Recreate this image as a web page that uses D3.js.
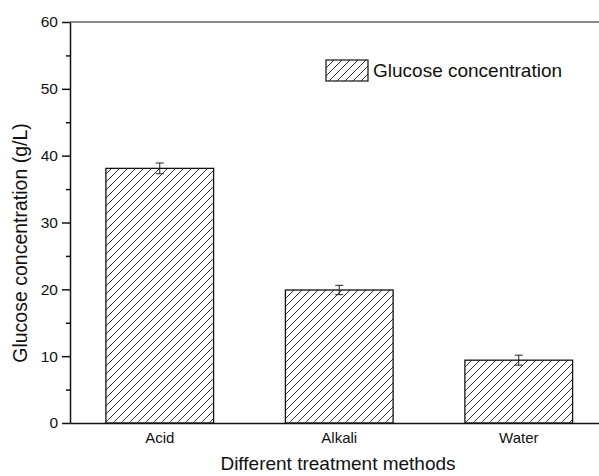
<!DOCTYPE html>
<html>
<head>
<meta charset="utf-8">
<script src="https://cdn.jsdelivr.net/npm/d3@7"></script>
<style>
  body { margin: 0; background: #fff; }
  text { font-family: "Liberation Sans", Arial, sans-serif; fill: #111; }
</style>
</head>
<body>
<script>
// data
const methods = ["Acid", "Alkali", "Water"];
const glucose = [38.1, 19.9, 9.4];
const glucoseErr = [0.8, 0.7, 0.75];
const yTicks = [0, 10, 20, 30, 40, 50, 60];
const yMinorTicks = [5, 15, 25, 35, 45, 55];

const width = 599, height = 476;
const plotLeft = 70, plotTop = 22, plotBottom = 423, plotRight = 608.5;

const svg = d3.select("body").append("svg")
    .attr("width", width)
    .attr("height", height);

// hatch fill
const defs = svg.append("defs");
defs.append("pattern")
    .attr("id", "hatch")
    .attr("patternUnits", "userSpaceOnUse")
    .attr("width", 8)
    .attr("height", 8)
    .append("path")
    .attr("d", "M0,8 L8,0 M-2,2 L2,-2 M6,10 L10,6")
    .attr("stroke", "#333")
    .attr("stroke-width", 1);

const x = d3.scaleBand()
    .domain(methods)
    .range([plotLeft, plotRight])
    .paddingInner(0.4)
    .paddingOuter(0.2);

const y = d3.scaleLinear()
    .domain([0, 60])
    .range([plotBottom, plotTop]);

// bars
svg.selectAll("rect.bar")
    .data(methods)
    .enter().append("rect")
    .attr("class", "bar")
    .attr("x", d => x(d))
    .attr("y", (d, i) => y(glucose[i]))
    .attr("width", x.bandwidth())
    .attr("height", (d, i) => y(0) - y(glucose[i]))
    .attr("fill", "url(#hatch)")
    .attr("stroke", "#111")
    .attr("stroke-width", 1.3);

// error bars
const err = svg.selectAll("g.err")
    .data(methods)
    .enter().append("g")
    .attr("class", "err")
    .attr("stroke", "#222")
    .attr("stroke-width", 1);
err.append("line")
    .attr("x1", d => x(d) + x.bandwidth() / 2)
    .attr("x2", d => x(d) + x.bandwidth() / 2)
    .attr("y1", (d, i) => y(glucose[i] + glucoseErr[i]))
    .attr("y2", (d, i) => y(glucose[i] - glucoseErr[i]));
err.append("line")
    .attr("x1", d => x(d) + x.bandwidth() / 2 - 4)
    .attr("x2", d => x(d) + x.bandwidth() / 2 + 4)
    .attr("y1", (d, i) => y(glucose[i] + glucoseErr[i]))
    .attr("y2", (d, i) => y(glucose[i] + glucoseErr[i]));
err.append("line")
    .attr("x1", d => x(d) + x.bandwidth() / 2 - 4)
    .attr("x2", d => x(d) + x.bandwidth() / 2 + 4)
    .attr("y1", (d, i) => y(glucose[i] - glucoseErr[i]))
    .attr("y2", (d, i) => y(glucose[i] - glucoseErr[i]));

// y axis, major + minor ticks
const yAxis = svg.append("g")
    .attr("transform", `translate(${plotLeft},0)`)
    .call(d3.axisLeft(y).tickValues(yTicks).tickSize(8).tickPadding(4).tickSizeOuter(0));
yAxis.selectAll("text").style("font-size", "15.5px");
svg.append("g")
    .attr("transform", `translate(${plotLeft},0)`)
    .call(d3.axisLeft(y).tickValues(yMinorTicks).tickSize(4).tickFormat("").tickSizeOuter(0))
    .select(".domain").remove();

// x axis
const xAxis = svg.append("g")
    .attr("transform", `translate(0,${plotBottom})`)
    .call(d3.axisBottom(x).tickSize(0).tickPadding(9));
xAxis.selectAll("text").style("font-size", "15px");

// frame
svg.append("line")
    .attr("x1", plotLeft).attr("x2", plotRight)
    .attr("y1", plotTop).attr("y2", plotTop)
    .attr("stroke", "#111");
svg.append("line")
    .attr("x1", plotRight).attr("x2", plotRight)
    .attr("y1", plotTop).attr("y2", plotBottom)
    .attr("stroke", "#111");

svg.selectAll(".domain, .tick line").attr("stroke", "#111").attr("stroke-width", 1.5);

// titles
svg.append("text")
    .attr("x", 338)
    .attr("y", 470)
    .attr("text-anchor", "middle")
    .style("font-size", "19px")
    .text("Different treatment methods");

svg.append("text")
    .attr("transform", "translate(27,243) rotate(-90)")
    .attr("text-anchor", "middle")
    .style("font-size", "19.5px")
    .text("Glucose concentration (g/L)");

// legend
const legend = svg.append("g").attr("transform", "translate(326,60)");
legend.append("rect")
    .attr("width", 42)
    .attr("height", 21)
    .attr("fill", "url(#hatch)")
    .attr("stroke", "#111")
    .attr("stroke-width", 1.2);
legend.append("text")
    .attr("x", 47)
    .attr("y", 17)
    .style("font-size", "19px")
    .text("Glucose concentration");
</script>
</body>
</html>
